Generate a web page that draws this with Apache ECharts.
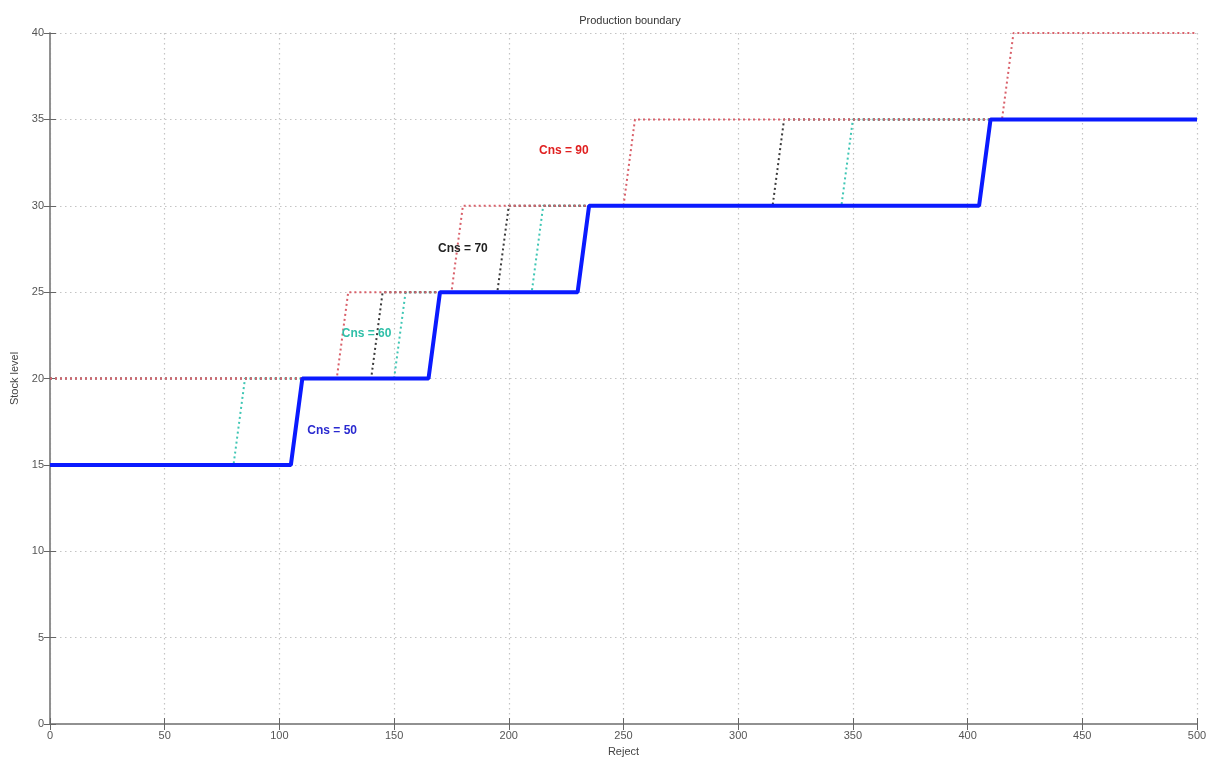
<!DOCTYPE html>
<html>
<head>
<meta charset="utf-8">
<script src="https://cdn.jsdelivr.net/npm/echarts@6/dist/echarts.min.js"></script>
<style>html,body{margin:0;padding:0;background:#fff;}#c{width:1219px;height:764px;}</style>
</head>
<body>
<div id="c"></div>
<script>
// Data (Reject, Stock level)
var cns50 = [[0,15],[105,15],[110,20],[165,20],[170,25],[230,25],[235,30],[405,30],[410,35],[500,35]];
var cns60 = [[0,15],[80,15],[85,20],[150,20],[155,25],[210,25],[215,30],[345,30],[350,35],[500,35]];
var cns70 = [[0,20],[140,20],[145,25],[195,25],[200,30],[315,30],[320,35],[500,35]];
var cns90 = [[0,20],[125,20],[130,25],[175,25],[180,30],[250,30],[255,35],[415,35],[420,40],[500,40]];
var labelTexts = ['Cns = 50','Cns = 60','Cns = 70','Cns = 90'];
var xTicks = [0,50,100,150,200,250,300,350,400,450,500];
var yTicks = [0,5,10,15,20,25,30,35,40];

var font = "'Liberation Sans Narrow','Liberation Sans',Arial,sans-serif";
var chart = echarts.init(document.getElementById('c'), null, {renderer:'canvas'});

function labelPoint(text, coord, color){
  return {
    coord: coord, symbol:'rect', symbolSize:1,
    itemStyle:{color:'rgba(0,0,0,0)'},
    label:{show:true, formatter:text, color:color, fontWeight:'bold', fontSize:12, fontFamily:font,
      position:'inside', opacity:1}
  };
}

var axisLine = {show:true, lineStyle:{color:'#8a8a8a', width:1.5}};
var option = {
  animation:false,
  backgroundColor:'#fff',
  title:{text:'Production boundary', left:625, top:10, textAlign:'center',
    textStyle:{fontSize:11, fontWeight:'normal', color:'#333', fontFamily:font}},
  grid:{left:50, right:22, top:33, bottom:40, containLabel:false},
  xAxis:[{
    type:'value', min:0, max:500, interval:50, position:'bottom',
    name:'Reject', nameLocation:'middle', nameGap:22,
    nameTextStyle:{fontSize:11, color:'#444', fontFamily:font},
    axisLine:axisLine,
    axisTick:{show:true, inside:true, length:6, lineStyle:{color:'#666'}},
    axisLabel:{color:'#555', fontSize:11, fontFamily:font, margin:6},
    splitLine:{show:true, lineStyle:{color:'#c4c4c4', type:[1.5,3.5], width:1.2}}
  },{
    type:'value', min:0, max:500, interval:50, position:'top',
    axisLine:axisLine,
    axisTick:{show:true, inside:true, length:6, lineStyle:{color:'#666'}},
    axisLabel:{show:false}, splitLine:{show:false}
  }],
  yAxis:[{
    type:'value', min:0, max:40, interval:5, position:'left',
    name:'Stock level', nameLocation:'middle', nameGap:30, nameRotate:90,
    nameTextStyle:{fontSize:11, color:'#444', fontFamily:font},
    axisLine:axisLine,
    axisTick:{show:true, inside:true, length:6, lineStyle:{color:'#666'}},
    axisLabel:{color:'#555', fontSize:11, fontFamily:font, margin:6},
    splitLine:{show:true, lineStyle:{color:'#c4c4c4', type:[1.5,3.5], width:1.2}}
  },{
    type:'value', min:0, max:40, interval:5, position:'right',
    axisLine:axisLine,
    axisTick:{show:true, inside:true, length:6, lineStyle:{color:'#666'}},
    axisLabel:{show:false}, splitLine:{show:false}
  }],
  series:[
    {name:'Cns = 60', type:'line', data:cns60, symbol:'none', z:2,
      lineStyle:{color:'#3fc6b4', width:2, type:[2,3]},
      markPoint:{silent:true, data:[labelPoint(labelTexts[1],[138,22.6],'#2fbfa8')]}},
    {name:'Cns = 70', type:'line', data:cns70, symbol:'none', z:3,
      lineStyle:{color:'#3a3a3a', width:2, type:[2,3]},
      markPoint:{silent:true, data:[labelPoint(labelTexts[2],[180,27.5],'#222')]}},
    {name:'Cns = 90', type:'line', data:cns90, symbol:'none', z:4,
      lineStyle:{color:'#d9606a', width:2, type:[2,3]},
      markPoint:{silent:true, data:[labelPoint(labelTexts[3],[224,33.2],'#e02020')]}},
    {name:'Cns = 50', type:'line', data:cns50, symbol:'none', z:5,
      lineStyle:{color:'#0a1aff', width:4, type:'solid'},
      markPoint:{silent:true, data:[labelPoint(labelTexts[0],[123,17],'#2a2ad0')]}}
  ]
};
chart.setOption(option);
</script>
</body>
</html>
